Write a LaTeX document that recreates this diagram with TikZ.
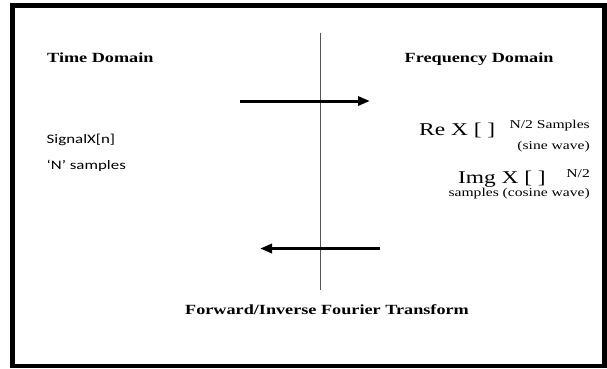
\documentclass[tikz,border=0pt]{standalone}
\usepackage{fontspec}
\setmainfont[FakeStretch=1.3]{Liberation Serif}
\newfontfamily\calibfont[FakeStretch=1.3]{Carlito}
\usetikzlibrary{arrows.meta, positioning}
\definecolor{axisgray}{HTML}{555555}

\begin{document}
\begin{tikzpicture}[
        x=1pt, y=-1pt,
        frame/.style={draw=black, line width=4.5pt},
        heading/.style={font=\fontsize{14}{16}\selectfont\bfseries, inner sep=0pt},
        signal/.style={font=\calibfont\fontsize{13}{15}\selectfont, inner sep=0pt},
        spectrum/.style={font=\fontsize{18}{20}\selectfont, inner sep=0pt},
        small/.style={font=\fontsize{12}{14}\selectfont, inner sep=0pt},
        axis/.style={draw=axisgray, line width=1.6pt},
        arrow/.style={-{Triangle[length=12pt, width=9pt]}, line width=3pt},
    ]
    \useasboundingbox (0,0) rectangle (607,368);

    % Frame
    \draw[frame] (12.3,5.3) rectangle (604.5,366);

    % ---- Headings ----
    \node[heading, anchor=west] (time) at (47,58) {Time Domain};
    \node[heading, anchor=west] (freq) at (404.5,59) {Frequency Domain};
    \node[heading] (title) at (327,310) {Forward/Inverse Fourier Transform};

    % ---- Time domain side ----
    \node[signal, anchor=west] (sig) at (46.5,140) {SignalX[n]};
    \node[signal, anchor=west] (nsam) at (46.5,166) {‘N’ samples};

    % ---- Frequency domain side ----
    \node[spectrum, anchor=west] (re) at (419,130) {Re X [ ]};
    \node[small, anchor=east] (rensam) at (590,126) {N/2 Samples};
    \node[small, anchor=east] (resine) at (590,147) {(sine wave)};
    \node[spectrum, anchor=east] (img) at (546,179) {Img X [ ]};
    \node[small, anchor=east] (imgn) at (590,174) {N/2};
    \node[small, anchor=east] (imgcos) at (590,194) {samples (cosine wave)};

    % ---- Divider and arrows ----
    \coordinate (axtop) at (320.5,32.7);
    \coordinate (axbot) at (320.5,290);
    \coordinate (fwdA) at (240,101);
    \coordinate (fwdB) at (370,101);
    \coordinate (invA) at (380,248.5);
    \coordinate (invB) at (260,248.5);

    \draw[axis] (axtop) -- (axbot);
    \draw[arrow] (fwdA) -- (fwdB);
    \draw[arrow] (invA) -- (invB);

\end{tikzpicture}
\end{document}
